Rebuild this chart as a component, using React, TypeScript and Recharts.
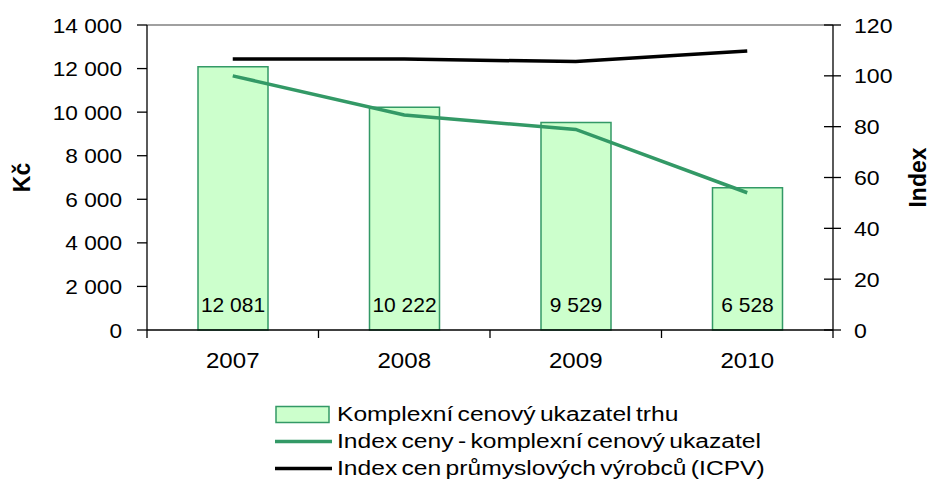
import { ComposedChart, Bar, Line, XAxis, YAxis, LabelList, Legend, ReferenceLine } from 'recharts'

const years = ['2007', '2008', '2009', '2010']
const marketIndicator = [12081, 10222, 9529, 6528]
const priceIndex = [100, 84.6, 78.9, 54.0]
const icpvIndex = [106.6, 106.6, 105.6, 109.8]
const leftTicks = [0, 2000, 4000, 6000, 8000, 10000, 12000, 14000]
const rightTicks = [0, 20, 40, 60, 80, 100, 120]
const seriesNames = [
  'Komplexní cenový ukazatel trhu',
  'Index ceny - komplexní cenový ukazatel',
  'Index cen průmyslových výrobců (ICPV)'
]

const data = years.map((year, i) => ({
  year,
  market: marketIndicator[i],
  price: priceIndex[i],
  icpv: icpvIndex[i]
}))

const FONT = '"Liberation Sans", Arial, sans-serif'
const GREEN = '#339966'
const BAR_FILL = '#ccffcc'
const PLOT_LEFT = 147
const PLOT_RIGHT = 833
const PLOT_BOTTOM = 330

const fmt = (n: number) => String(n).replace(/\B(?=(\d{3})+(?!\d))/g, ' ')

// the original text is slightly stretched horizontally
const Wide = ({ x, y, anchor, size, sx, children }: any) => (
  <text
    transform={`translate(${x} ${y}) scale(${sx} 1)`}
    textAnchor={anchor}
    fontSize={size}
    fontFamily={FONT}
    fill="#000"
  >
    {children}
  </text>
)

const XTick = (props: any) => {
  const { x, payload, index, width, visibleTicksCount } = props
  const bw = width / visibleTicksCount
  return (
    <g>
      <line x1={x - bw / 2} x2={x - bw / 2} y1={PLOT_BOTTOM} y2={PLOT_BOTTOM + 8} stroke="#000" strokeWidth={1.3} />
      {index === visibleTicksCount - 1 && (
        <line x1={x + bw / 2} x2={x + bw / 2} y1={PLOT_BOTTOM} y2={PLOT_BOTTOM + 8} stroke="#000" strokeWidth={1.3} />
      )}
      <Wide x={x} y={PLOT_BOTTOM + 38} anchor="middle" size={21.5} sx={1.12}>
        {payload.value}
      </Wide>
    </g>
  )
}

const LeftTick = (props: any) => {
  const { payload } = props
  const y = payload.coordinate
  return (
    <g>
      <line x1={PLOT_LEFT - 10} x2={PLOT_LEFT} y1={y} y2={y} stroke="#000" strokeWidth={1.3} />
      <Wide x={PLOT_LEFT - 25} y={y + 7.5} anchor="end" size={21} sx={1.08}>
        {fmt(payload.value)}
      </Wide>
    </g>
  )
}

const RightTick = (props: any) => {
  const { payload } = props
  const y = payload.coordinate
  return (
    <g>
      <line x1={PLOT_RIGHT - 9} x2={PLOT_RIGHT + 8} y1={y} y2={y} stroke="#000" strokeWidth={1.3} />
      <Wide x={PLOT_RIGHT + 21} y={y + 7.5} anchor="start" size={21} sx={1.1}>
        {payload.value}
      </Wide>
    </g>
  )
}

const BarLabel = (props: any) => {
  const { x, y, width, height, value } = props
  return (
    <text x={x + width / 2} y={y + height - 18.5} textAnchor="middle" fontSize={21} fontFamily={FONT} fill="#000">
      {fmt(value)}
    </text>
  )
}

const LegendContent = () => (
  <div style={{ fontFamily: FONT, fontSize: 20, wordSpacing: -2, color: '#000' }}>
    {seriesNames.map((name, i) => (
      <div key={name} style={{ display: 'flex', alignItems: 'center', height: 27, whiteSpace: 'nowrap' }}>
        <svg width={62} height={27} style={{ flexShrink: 0 }}>
          {i === 0 ? (
            <rect x={1} y={5.5} width={53} height={16} fill={BAR_FILL} stroke={GREEN} strokeWidth={1.5} />
          ) : (
            <line x1={0} x2={57} y1={13.5} y2={13.5} stroke={i === 1 ? GREEN : '#000'} strokeWidth={3.5} />
          )}
        </svg>
        <span style={{ display: 'inline-block', transform: 'scaleX(1.23)', transformOrigin: 'left center' }}>{name}</span>
      </div>
    ))}
  </div>
)

const axisTitle = (text: string, cx: number) => (p: any) => {
  const cy = p.viewBox.y + p.viewBox.height / 2
  return (
    <text
      x={cx}
      y={cy}
      transform={`rotate(-90 ${cx} ${cy})`}
      textAnchor="middle"
      dy={8}
      fontSize={23}
      fontWeight="bold"
      fontFamily={FONT}
      fill="#000"
    >
      {text}
    </text>
  )
}

export default function App() {
  return (
    <div style={{ position: 'absolute', left: 0, top: 0, width: 931, height: 480, background: '#fff' }}>
      <ComposedChart width={931} height={480} data={data} margin={{ top: 25, right: 0, bottom: 0, left: 0 }}>
        <XAxis
          dataKey="year"
          xAxisId="x"
          height={150}
          axisLine={{ stroke: '#000', strokeWidth: 1.3 }}
          tickLine={false}
          tick={<XTick />}
          interval={0}
        />
        <YAxis
          yAxisId="left"
          width={147}
          domain={[0, 14000]}
          ticks={leftTicks}
          interval={0}
          axisLine={{ stroke: '#000', strokeWidth: 1.3 }}
          tickLine={false}
          tick={<LeftTick />}
          label={{ content: axisTitle('Kč', 22) }}
        />
        <YAxis
          yAxisId="right"
          orientation="right"
          width={98}
          domain={[0, 120]}
          ticks={rightTicks}
          interval={0}
          axisLine={{ stroke: '#000', strokeWidth: 1.3 }}
          tickLine={false}
          tick={<RightTick />}
          label={{ content: axisTitle('Index', 918) }}
        />
        <ReferenceLine yAxisId="left" xAxisId="x" y={14000} stroke="#808080" strokeWidth={1.3} />
        <Bar
          dataKey="market"
          name={seriesNames[0]}
          xAxisId="x"
          yAxisId="left"
          barSize={70}
          fill={BAR_FILL}
          stroke={GREEN}
          strokeWidth={1.5}
          isAnimationActive={false}
        >
          <LabelList dataKey="market" content={<BarLabel />} />
        </Bar>
        <Line
          dataKey="price"
          name={seriesNames[1]}
          xAxisId="x"
          yAxisId="right"
          type="linear"
          stroke={GREEN}
          strokeWidth={3.5}
          dot={false}
          isAnimationActive={false}
        />
        <Line
          dataKey="icpv"
          name={seriesNames[2]}
          xAxisId="x"
          yAxisId="right"
          type="linear"
          stroke="#000"
          strokeWidth={3.5}
          dot={false}
          isAnimationActive={false}
        />
        <Legend
          layout="horizontal"
          verticalAlign="middle"
          align="center"
          content={<LegendContent />}
          wrapperStyle={{ left: 275, top: 401, width: 'auto', height: 'auto' }}
        />
      </ComposedChart>
    </div>
  )
}
